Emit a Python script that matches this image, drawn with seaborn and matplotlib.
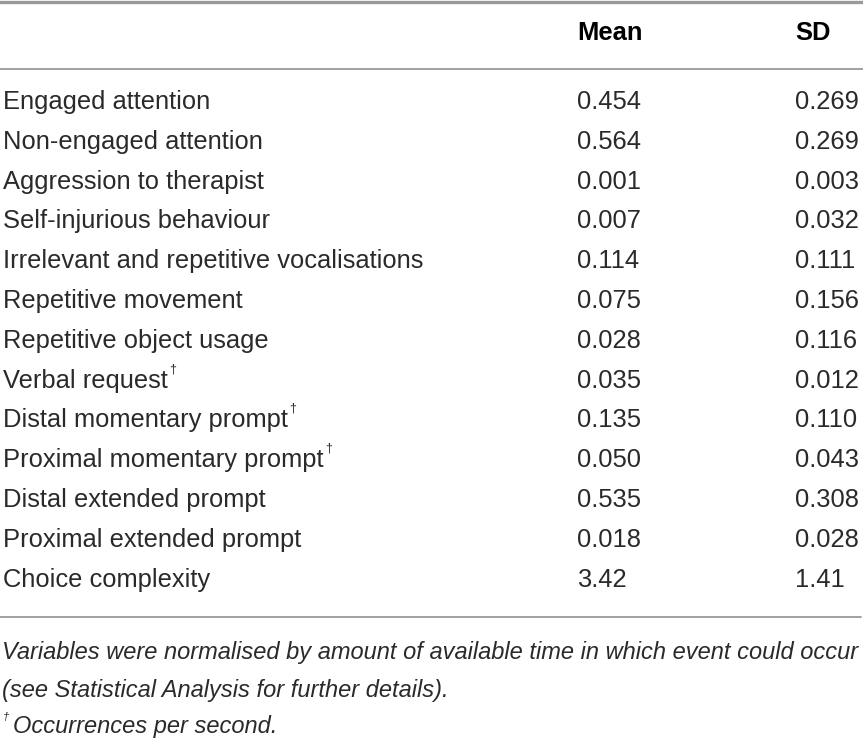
import matplotlib
matplotlib.use("Agg")
import matplotlib.pyplot as plt
import seaborn as sns

# table content
variables = [
    "Engaged attention",
    "Non-engaged attention",
    "Aggression to therapist",
    "Self-injurious behaviour",
    "Irrelevant and repetitive vocalisations",
    "Repetitive movement",
    "Repetitive object usage",
    "Verbal request",
    "Distal momentary prompt",
    "Proximal momentary prompt",
    "Distal extended prompt",
    "Proximal extended prompt",
    "Choice complexity",
]
per_second = [False, False, False, False, False, False, False,
              True, True, True, False, False, False]
means = ["0.454", "0.564", "0.001", "0.007", "0.114", "0.075", "0.028",
         "0.035", "0.135", "0.050", "0.535", "0.018", "3.42"]
sds = ["0.269", "0.269", "0.003", "0.032", "0.111", "0.156", "0.116",
       "0.012", "0.110", "0.043", "0.308", "0.028", "1.41"]
headers = ["Mean", "SD"]
notes = [
    "Variables were normalised by amount of available time in which event could occur",
    "(see Statistical Analysis for further details).",
]
dagger_note = "Occurrences per second."

sns.set_theme(style="white")
plt.rcParams['font.family'] = ['Liberation Sans', 'DejaVu Sans']

W, H = 863, 740
fig = plt.figure(figsize=(W / 100, H / 100), dpi=100)
ax = fig.add_axes([0, 0, 1, 1])
ax.set_xlim(0, W)
ax.set_ylim(H, 0)
ax.axis("off")

line_col = "#9a9a9a"
txt_col = "#2a2a2a"
body_fs = 18.4
note_fs = 17.0
col_x = [577, 795]
row0, row_step = 102, 39.8

# rules
ax.axhline(1.5, color=line_col, lw=2.4)
ax.plot([0, W], [69, 69], color=line_col, lw=1.3)
ax.plot([0, 861], [617, 617], color=line_col, lw=1.3)

# header
for x, h in zip(col_x, headers):
    ax.text(x, 33, h, fontsize=body_fs, fontweight="bold", color="black",
            ha="left", va="center")

# rows
for i, (name, dag, m, s) in enumerate(zip(variables, per_second, means, sds)):
    y = row0 + i * row_step
    t = ax.text(3, y, name, fontsize=body_fs, color=txt_col,
                ha="left", va="center")
    if dag:
        ax.annotate("\u2020", xy=(1, 1), xycoords=t, xytext=(1, 4),
                    textcoords="offset points", fontsize=9, color=txt_col,
                    ha="left", va="top")
    ax.text(col_x[0], y, m, fontsize=body_fs, color=txt_col,
            ha="left", va="center")
    ax.text(col_x[1], y, s, fontsize=body_fs, color=txt_col,
            ha="left", va="center")

# footnotes
for j, n in enumerate(notes):
    ax.text(2, 652 + j * 38, n, fontsize=note_fs, fontstyle="italic",
            color=txt_col, ha="left", va="center")
ax.text(3, 717, "\u2020", fontsize=8, fontstyle="italic", color=txt_col,
        ha="left", va="center")
ax.text(13, 727, dagger_note, fontsize=note_fs, fontstyle="italic",
        color=txt_col, ha="left", va="center")

fig.savefig("out.png", dpi=100, facecolor="white")
